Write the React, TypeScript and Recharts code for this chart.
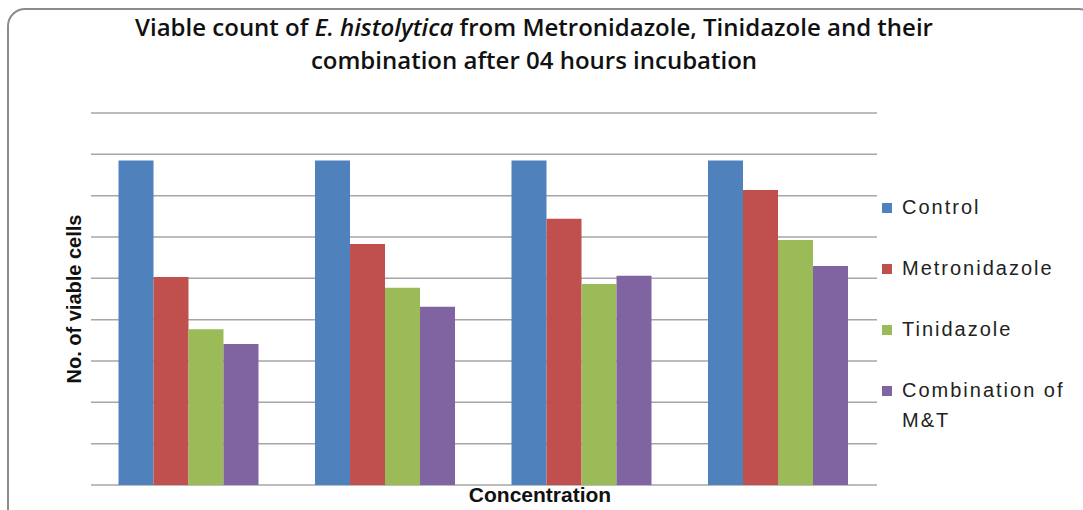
import React from "react";
import { BarChart, Bar, XAxis, YAxis, CartesianGrid } from "recharts";

const concentrations = ["C1", "C2", "C3", "C4"];
const controlValues = [7.85, 7.85, 7.85, 7.85];
const metronidazoleValues = [5.03, 5.83, 6.44, 7.14];
const tinidazoleValues = [3.77, 4.77, 4.86, 5.93];
const combinationValues = [3.41, 4.31, 5.06, 5.3];
const yTicks = [0, 1, 2, 3, 4, 5, 6, 7, 8, 9];

const seriesNames = ["Control", "Metronidazole", "Tinidazole", "Combination of M&T"];
const seriesColors = ["#4F81BD", "#C0504D", "#9BBB59", "#8064A2"];

const data = concentrations.map((c, i) => ({
  name: c,
  control: controlValues[i],
  metronidazole: metronidazoleValues[i],
  tinidazole: tinidazoleValues[i],
  combination: combinationValues[i],
}));
const keys = ["control", "metronidazole", "tinidazole", "combination"];

const font = "'Liberation Sans', Arial, sans-serif";

export default function App() {
  return (
    <div style={{ position: "absolute", left: 0, top: 0, width: 1083, height: 510, overflow: "hidden", background: "#fff", fontFamily: font }}>
      {/* rounded frame */}
      <div style={{
        position: "absolute", left: 7, top: 8, width: 1090, height: 530,
        border: "2px solid #8c8c8c", borderRadius: 18, boxSizing: "border-box",
      }} />

      {/* title */}
      <div style={{
        position: "absolute", left: 0, top: 10, width: 1068, textAlign: "center",
        fontFamily: "'Open Sans', sans-serif", fontWeight: 600, fontSize: 24, lineHeight: "33px", color: "#111",
      }}>
        <div>Viable count of <i>E. histolytica</i> from Metronidazole, Tinidazole and their</div>
        <div>combination after 04 hours incubation</div>
      </div>

      <div style={{ position: "absolute", left: 0, top: 0 }}>
        <BarChart
          width={1083}
          height={510}
          data={data}
          margin={{ top: 113, right: 206, bottom: 25, left: 91 }}
          barGap={0}
          barCategoryGap="14%"
        >
          <CartesianGrid vertical={false} stroke="#a6a6a6" strokeWidth={1.5} />
          <XAxis dataKey="name" axisLine={false} tickLine={false} tick={() => <g />} height={0} />
          <YAxis domain={[0, 9]} ticks={yTicks} axisLine={false} tickLine={false} tick={() => <g />} width={0} />
          {keys.map((k, i) => (
            <Bar key={k} dataKey={k} name={seriesNames[i]} fill={seriesColors[i]} isAnimationActive={false} />
          ))}
        </BarChart>
      </div>

      {/* axis titles */}
      <div style={{
        position: "absolute", left: 74, top: 299, transform: "translate(-50%, -50%) rotate(-90deg)",
        whiteSpace: "nowrap", fontWeight: 700, fontSize: 20, color: "#111",
      }}>
        No. of viable cells
      </div>
      <div style={{
        position: "absolute", left: 540, top: 495, transform: "translate(-50%, -50%)",
        whiteSpace: "nowrap", fontWeight: 700, fontSize: 21, color: "#111",
      }}>
        Concentration
      </div>

      {/* legend */}
      {seriesNames.map((n, i) => (
        <div key={n} style={{ position: "absolute", left: 882, top: 195 + i * 61, display: "flex", alignItems: "flex-start" }}>
          <div style={{ width: 10, height: 10, background: seriesColors[i], marginTop: 8, marginRight: 10 }} />
          <div style={{ width: 175, fontSize: 20, letterSpacing: 2, lineHeight: "30px", marginTop: -3, color: "#222" }}>{n}</div>
        </div>
      ))}
    </div>
  );
}
